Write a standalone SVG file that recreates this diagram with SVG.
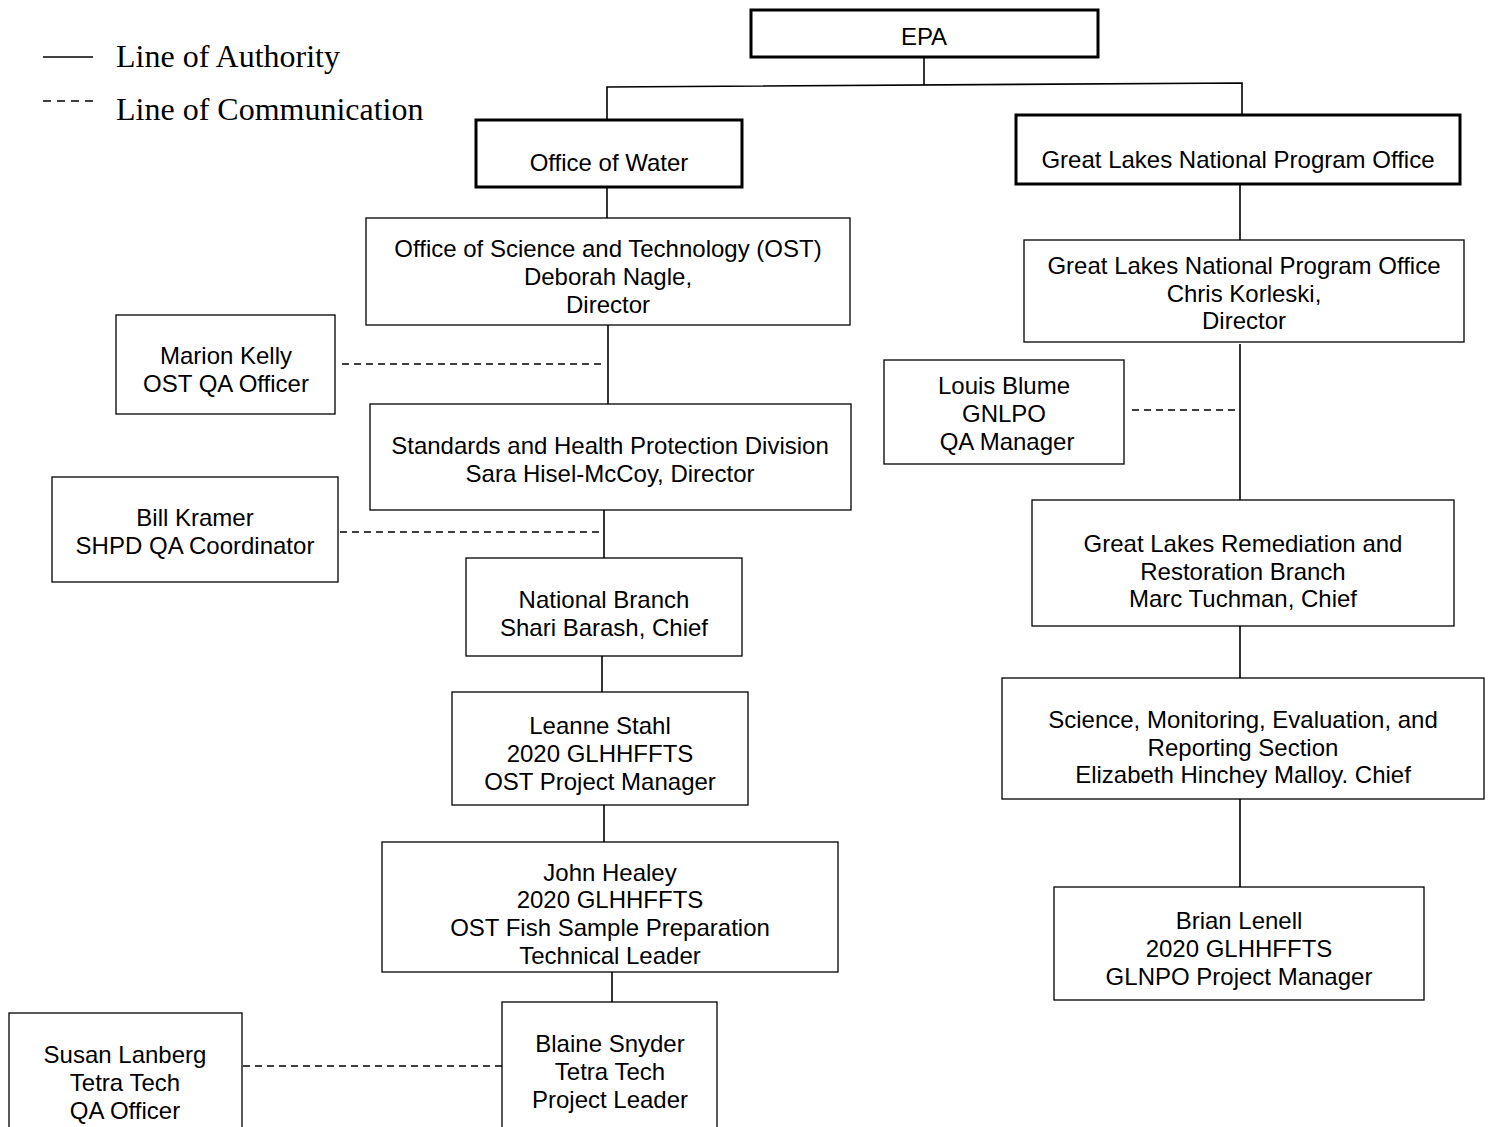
<svg xmlns="http://www.w3.org/2000/svg" width="1491" height="1127" viewBox="0 0 1491 1127">
<style>
.b{fill:#fff;stroke:#000;stroke-width:1.3}
.t{fill:#fff;stroke:#000;stroke-width:3}
.x{font-family:"Liberation Sans",Arial,sans-serif;font-size:24px;fill:#000;text-anchor:middle;dominant-baseline:central}
.lg{font-family:"Liberation Serif","Times New Roman",serif;font-size:32px;fill:#000}
.s{stroke:#000;stroke-width:1.6;fill:none}
.d{stroke:#000;stroke-width:1.6;fill:none;stroke-dasharray:7 5}
</style>
<rect width="1491" height="1127" fill="#fff"/>
<g id="legend">
<line x1="43" y1="57" x2="93" y2="57" stroke="#000" stroke-width="1.6"/>
<text class="lg" x="116" y="67">Line of Authority</text>
<line x1="43" y1="101" x2="93" y2="101" stroke="#000" stroke-width="1.6" stroke-dasharray="8 6"/>
<text class="lg" x="116" y="120">Line of Communication</text>
</g>
<g id="connectors">
<polyline class="s" points="924,57 924,85"/>
<polyline class="s" points="607,120 607,87 1242,83 1242,115"/>
<line class="s" x1="607" y1="187" x2="607" y2="218"/>
<line class="s" x1="608" y1="325" x2="608" y2="404"/>
<line class="d" x1="342" y1="364" x2="603" y2="364"/>
<line class="s" x1="604" y1="510" x2="604" y2="558"/>
<line class="d" x1="340" y1="532" x2="600" y2="532"/>
<line class="s" x1="602" y1="656" x2="602" y2="692"/>
<line class="s" x1="604" y1="805" x2="604" y2="842"/>
<line class="s" x1="612" y1="972" x2="612" y2="1002"/>
<line class="d" x1="243" y1="1066" x2="502" y2="1066"/>
<line class="s" x1="1240" y1="184" x2="1240" y2="240"/>
<line class="s" x1="1240" y1="344" x2="1240" y2="500"/>
<line class="d" x1="1132" y1="410" x2="1238" y2="410"/>
<line class="s" x1="1240" y1="626" x2="1240" y2="678"/>
<line class="s" x1="1240" y1="799" x2="1240" y2="887"/>
</g>
<g id="epa"><rect class="t" x="751" y="10" width="347" height="47"/><text class="x" x="924" y="36">EPA</text></g>
<g id="office-of-water"><rect class="t" x="476" y="120" width="266" height="67"/><text class="x" x="609" y="162">Office of Water</text></g>
<g id="glnpo"><rect class="t" x="1016" y="115" width="444" height="69"/><text class="x" x="1238" y="159">Great Lakes National Program Office</text></g>
<g id="ost"><rect class="b" x="366" y="218" width="484" height="107"/><text class="x" x="608" y="248">Office of Science and Technology (OST)</text><text class="x" x="608" y="276">Deborah Nagle,</text><text class="x" x="608" y="304">Director</text></g>
<g id="marion-kelly"><rect class="b" x="116" y="315" width="219" height="99"/><text class="x" x="226" y="355">Marion Kelly</text><text class="x" x="226" y="383">OST QA Officer</text></g>
<g id="shpd"><rect class="b" x="370" y="404" width="481" height="106"/><text class="x" x="610" y="445">Standards and Health Protection Division</text><text class="x" x="610" y="473">Sara Hisel-McCoy, Director</text></g>
<g id="bill-kramer"><rect class="b" x="52" y="477" width="286" height="105"/><text class="x" x="195" y="517">Bill Kramer</text><text class="x" x="195" y="545">SHPD QA Coordinator</text></g>
<g id="national-branch"><rect class="b" x="466" y="558" width="276" height="98"/><text class="x" x="604" y="599">National Branch</text><text class="x" x="604" y="627">Shari Barash, Chief</text></g>
<g id="leanne-stahl"><rect class="b" x="452" y="692" width="296" height="113"/><text class="x" x="600" y="725">Leanne Stahl</text><text class="x" x="600" y="753">2020 GLHHFFTS</text><text class="x" x="600" y="781">OST Project Manager</text></g>
<g id="john-healey"><rect class="b" x="382" y="842" width="456" height="130"/><text class="x" x="610" y="872">John Healey</text><text class="x" x="610" y="899">2020 GLHHFFTS</text><text class="x" x="610" y="927">OST Fish Sample Preparation</text><text class="x" x="610" y="955">Technical Leader</text></g>
<g id="blaine-snyder"><rect class="b" x="502" y="1002" width="215" height="135"/><text class="x" x="610" y="1043">Blaine Snyder</text><text class="x" x="610" y="1071">Tetra Tech</text><text class="x" x="610" y="1099">Project Leader</text></g>
<g id="susan-lanberg"><rect class="b" x="9" y="1013" width="233" height="124"/><text class="x" x="125" y="1054">Susan Lanberg</text><text class="x" x="125" y="1082">Tetra Tech</text><text class="x" x="125" y="1110">QA Officer</text></g>
<g id="glnpo-director"><rect class="b" x="1024" y="240" width="440" height="102"/><text class="x" x="1244" y="265">Great Lakes National Program Office</text><text class="x" x="1244" y="293">Chris Korleski,</text><text class="x" x="1244" y="320">Director</text></g>
<g id="louis-blume"><rect class="b" x="884" y="360" width="240" height="104"/><text class="x" x="1004" y="385">Louis Blume</text><text class="x" x="1004" y="413">GNLPO</text><text class="x" x="1007" y="441">QA Manager</text></g>
<g id="glrrb"><rect class="b" x="1032" y="500" width="422" height="126"/><text class="x" x="1243" y="543">Great Lakes Remediation and</text><text class="x" x="1243" y="571">Restoration Branch</text><text class="x" x="1243" y="598">Marc Tuchman, Chief</text></g>
<g id="smers"><rect class="b" x="1002" y="678" width="482" height="121"/><text class="x" x="1243" y="719">Science, Monitoring, Evaluation, and</text><text class="x" x="1243" y="747">Reporting Section</text><text class="x" x="1243" y="774">Elizabeth Hinchey Malloy. Chief</text></g>
<g id="brian-lenell"><rect class="b" x="1054" y="887" width="370" height="113"/><text class="x" x="1239" y="920">Brian Lenell</text><text class="x" x="1239" y="948">2020 GLHHFFTS</text><text class="x" x="1239" y="976">GLNPO Project Manager</text></g>
</svg>
